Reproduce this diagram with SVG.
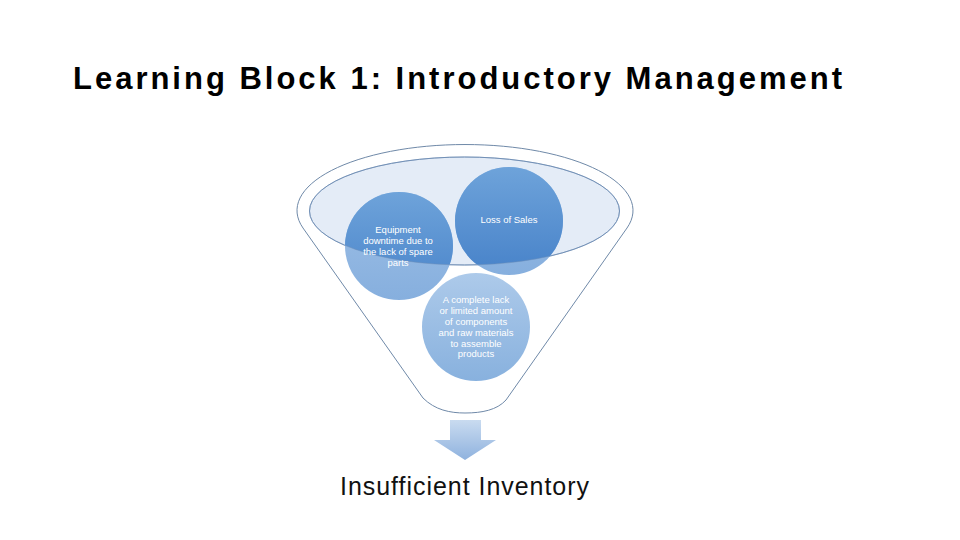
<svg xmlns="http://www.w3.org/2000/svg" width="960" height="540" viewBox="0 0 960 540">
  <defs>
    <style>
      .title { font-family: "Liberation Sans", Arial, sans-serif; font-weight: bold; font-size: 31px; fill: #000; }
      .ctext { font-family: "Liberation Sans", Arial, sans-serif; font-size: 9.5px; fill: #ffffff; text-anchor: middle; }
      .result { font-family: "Liberation Sans", Arial, sans-serif; font-size: 25px; fill: #111; }
      .funnel { fill: #ffffff; stroke: #6f89a8; stroke-width: 1; }
      .rim { fill: #e4ecf7; stroke: #7390b5; stroke-width: 1; }
      .rimline { fill: none; stroke: #6f8fb8; stroke-width: 0.8; opacity: 0.6; }
    </style>
    <linearGradient id="gDark" x1="0" y1="0" x2="0" y2="1">
      <stop offset="0" stop-color="#6ea3da"/>
      <stop offset="1" stop-color="#4782c9"/>
    </linearGradient>
    <linearGradient id="gLight" x1="0" y1="0" x2="0" y2="1">
      <stop offset="0" stop-color="#9fc0e6"/>
      <stop offset="1" stop-color="#86afde"/>
    </linearGradient>
    <linearGradient id="gThird" x1="0" y1="0" x2="0" y2="1">
      <stop offset="0" stop-color="#adcaea"/>
      <stop offset="1" stop-color="#88b1de"/>
    </linearGradient>
    <linearGradient id="gArrow" x1="0" y1="0" x2="0" y2="1">
      <stop offset="0" stop-color="#c9dbf0"/>
      <stop offset="1" stop-color="#8fb2de"/>
    </linearGradient>
    <clipPath id="rimClip">
      <ellipse cx="464.5" cy="211" rx="155" ry="54"/>
    </clipPath>
  </defs>

  <rect width="960" height="540" fill="#ffffff"/>

  <g id="title">
    <text class="title" x="73" y="89" textLength="769" lengthAdjust="spacing">Learning Block 1: Introductory Management</text>
  </g>

  <g id="funnel">
    <path class="funnel" d="M 303,228 A 168 66 0 1 1 627,228 L 506,400 C 497,410 482,413 465,413 C 450,413 435,410 423,398 Z"/>
    <ellipse class="rim" cx="464.5" cy="211" rx="155" ry="54"/>
  </g>

  <g id="node-equipment">
    <circle cx="399" cy="246" r="54" fill="url(#gLight)"/>
    <circle cx="399" cy="246" r="54" fill="url(#gDark)" clip-path="url(#rimClip)"/>
  </g>

  <g id="node-loss-of-sales">
    <circle cx="509" cy="221" r="54" fill="url(#gLight)"/>
    <circle cx="509" cy="221" r="54" fill="url(#gDark)" clip-path="url(#rimClip)"/>
  </g>

  <g id="node-complete-lack">
    <circle cx="476" cy="327" r="54" fill="url(#gThird)"/>
  </g>

  <ellipse class="rimline" cx="464.5" cy="211" rx="155" ry="54"/>

  <g id="labels">
    <text class="ctext" x="398" y="233">Equipment</text>
    <text class="ctext" x="398" y="244">downtime due to</text>
    <text class="ctext" x="398" y="255">the lack of spare</text>
    <text class="ctext" x="398" y="266">parts</text>
    <text class="ctext" x="509" y="223">Loss of Sales</text>
    <text class="ctext" x="476" y="303">A complete lack</text>
    <text class="ctext" x="476" y="314">or limited amount</text>
    <text class="ctext" x="476" y="325">of components</text>
    <text class="ctext" x="476" y="336">and raw materials</text>
    <text class="ctext" x="476" y="347">to assemble</text>
    <text class="ctext" x="476" y="357">products</text>
  </g>

  <g id="connectors">
    <path d="M 450,420 L 481,420 L 481,440 L 496,440 L 465,460 L 434,440 L 450,440 Z" fill="url(#gArrow)"/>
  </g>

  <g id="node-result">
    <text class="result" x="340" y="495" textLength="249" lengthAdjust="spacing">Insufficient Inventory</text>
  </g>
</svg>
